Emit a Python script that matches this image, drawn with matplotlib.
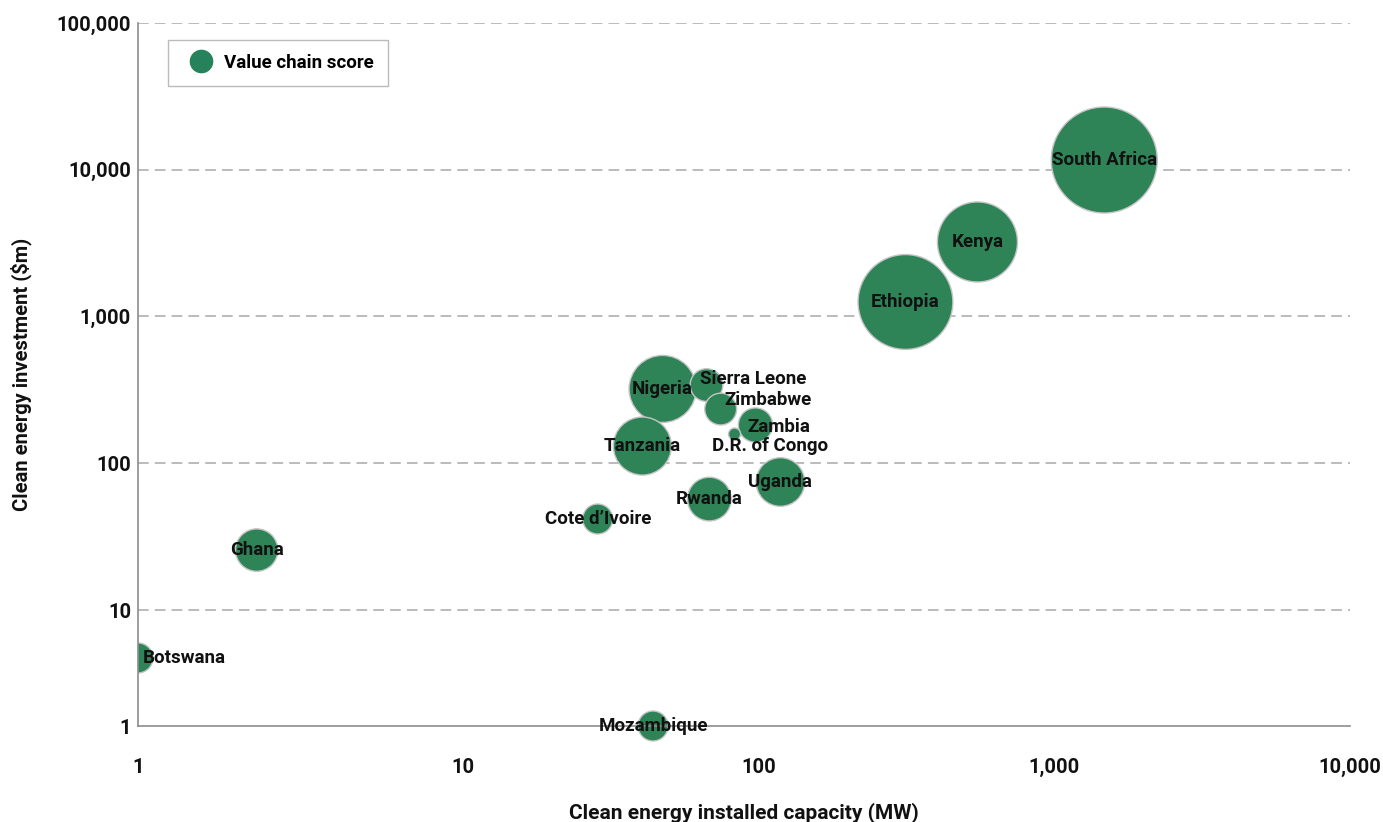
import numpy as np
import matplotlib
matplotlib.use("Agg")
import matplotlib.pyplot as plt
from matplotlib.patches import Rectangle
from matplotlib.lines import Line2D

# ---------------- data ----------------
countries = ["South Africa", "Kenya", "Ethiopia", "Nigeria", "Sierra Leone", "Zimbabwe",
             "Zambia", "D.R. of Congo", "Tanzania", "Uganda", "Rwanda", "Cote d\u2019Ivoire",
             "Ghana", "Botswana", "Mozambique"]
capacity_mw = [1476, 550, 314, 47.4, 66.7, 74.5, 97.7, 83, 40.5, 118.6, 68.2, 28.6, 2.32, 1.0, 44]
investment_musd = [11650, 3220, 1256, 321, 341, 234, 182, 158, 131, 74.5, 57, 41.7, 25.6, 3.86, 1.0]
value_chain_score = [100, 57, 80, 40, 9.5, 9, 10.5, 1.3, 30, 21, 17, 8, 16, 8, 8]

x_ticks = [1, 10, 100, 1000, 10000]
x_tick_labels = ["1", "10", "100", "1,000", "10,000"]
y_ticks = [1, 10, 100, 1000, 10000, 100000]
y_tick_labels = ["1", "10", "100", "1,000", "10,000", "100,000"]

# label offsets in pixels (dx right, dy up)
label_offsets = {"Sierra Leone": (47, 6), "Zimbabwe": (47, 9), "Zambia": (23, -2),
                 "D.R. of Congo": (36, -12), "Botswana": (46, 0)}

# ---------------- style ----------------
FONT = ["Roboto", "DejaVu Sans"]
plt.rcParams["font.family"] = FONT
GREEN = "#2e8457"
DPI = 100

# piecewise log scales (first decade compressed / expanded as in reference)
KX = 325 / 296
KY = 116 / 146.75

def make_scale(k):
    def fwd(v):
        v = np.asarray(v, dtype=float)
        l = np.log10(np.clip(v, 1e-12, None))
        return np.where(l >= 1, l, 1 - (1 - l) * k)
    def inv(u):
        u = np.asarray(u, dtype=float)
        return np.where(u >= 1, 10 ** u, 10 ** (1 - (1 - u) / k))
    return fwd, inv

fig = plt.figure(figsize=(13.83, 8.22), dpi=DPI)
ax = fig.add_axes([138 / 1383, 96 / 822, (1350 - 138) / 1383, (726 - 23) / 822])
ax.set_xscale("function", functions=make_scale(KX))
ax.set_yscale("function", functions=make_scale(KY))
ax.set_xlim(1, 10000)
ax.set_ylim(1, 100000)

# grid lines
for yv in y_ticks[1:]:
    ax.axhline(yv, color="#a8a8a8", lw=1.1, ls=(0, (7, 4)), zorder=1)

# bubbles
radius_px = [53 * np.sqrt(s / 100) for s in value_chain_score]
sizes = [(2 * r * 72 / DPI) ** 2 for r in radius_px]
sc = ax.scatter(capacity_mw, investment_musd, s=sizes, c=GREEN, edgecolors="#c4c4c4",
                linewidths=1.0, zorder=3)
clip = Rectangle((0, -0.3), 1.3, 1.6, transform=ax.transAxes, facecolor="none", edgecolor="none")
ax.add_patch(clip)
sc.set_clip_path(clip)

for name, xv, yv in zip(countries, capacity_mw, investment_musd):
    dx, dy = label_offsets.get(name, (0, 0))
    ax.annotate(name, (xv, yv), xytext=(dx * 72 / DPI, dy * 72 / DPI), textcoords="offset points",
                ha="center", va="center", fontsize=13.5, fontweight="bold", color="#111111",
                zorder=5, annotation_clip=False)

# axes styling
for side in ["top", "right"]:
    ax.spines[side].set_visible(False)
for side in ["left", "bottom"]:
    ax.spines[side].set_color("#8c8c8c")
    ax.spines[side].set_linewidth(1.2)
    ax.spines[side].set_zorder(4)

ax.set_xticks(x_ticks)
ax.set_xticklabels(x_tick_labels)
ax.set_yticks(y_ticks)
ax.set_yticklabels(y_tick_labels)
ax.xaxis.set_minor_locator(matplotlib.ticker.NullLocator())
ax.yaxis.set_minor_locator(matplotlib.ticker.NullLocator())
ax.tick_params(axis="x", length=0, pad=23, labelsize=14.5)
ax.tick_params(axis="y", length=0, pad=5, labelsize=14.5)
for lab in ax.get_xticklabels() + ax.get_yticklabels():
    lab.set_fontweight("bold")
    lab.set_color("#111111")

ax.set_xlabel("Clean energy installed capacity (MW)", fontsize=15, fontweight="bold",
              color="#111111", labelpad=18)
ax.set_ylabel("Clean energy investment ($m)", fontsize=14.5, fontweight="bold",
              color="#111111", labelpad=18)

# legend
handle = Line2D([], [], marker="o", ls="none", markersize=16, markerfacecolor="#26825a",
                markeredgecolor="#26825a")
leg = ax.legend([handle], ["Value chain score"], loc="upper left",
                bbox_to_anchor=(30 / 1212, 1 - 17 / 703), frameon=True, fancybox=False,
                prop={"size": 13.5, "weight": "bold"}, borderpad=0.75, handletextpad=0.25,
                borderaxespad=0)
leg.get_frame().set_edgecolor("#aaaaaa")
leg.get_frame().set_linewidth(1.0)

fig.savefig("out.png", dpi=DPI)
